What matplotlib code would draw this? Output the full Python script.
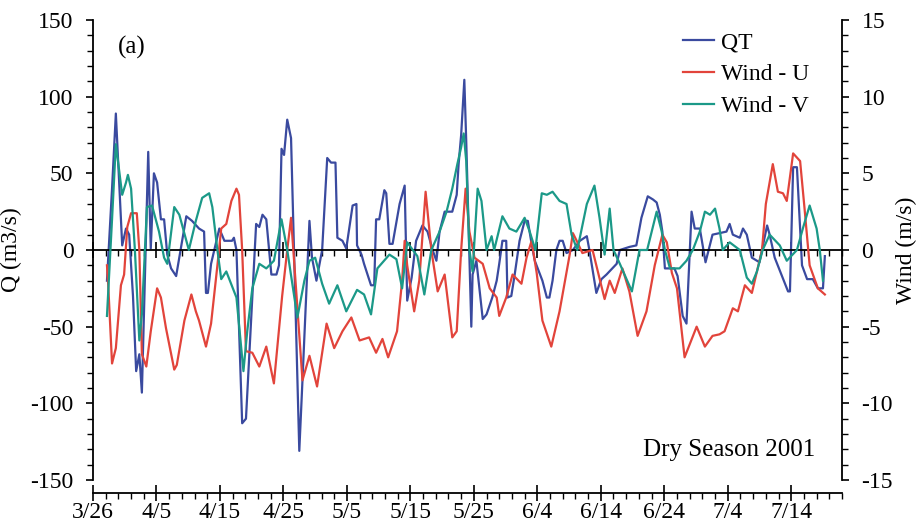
import numpy as np
import matplotlib
matplotlib.use("Agg")
import matplotlib.pyplot as plt
from matplotlib.ticker import MultipleLocator

plt.rcParams["font.family"] = ["Liberation Serif", "DejaVu Serif"]
plt.rcParams["axes.unicode_minus"] = False

# days since 3/26/2001
date_labels = ["3/26", "4/5", "4/15", "4/25", "5/5", "5/15", "5/25",
               "6/4", "6/14", "6/24", "7/4", "7/14"]

qt_day = [2.2, 3.0, 3.6, 4.6, 5.2, 5.7, 6.3, 6.8, 7.3, 7.7, 8.7, 9.1, 9.6, 10.1,
          10.7, 11.2, 11.7, 12.3, 13.1, 14.7, 15.6, 16.7, 17.5, 17.8, 18.1, 18.6,
          19.9, 20.7, 21.9, 22.2, 22.6, 23.5, 24.1, 25.7, 26.2, 26.7, 27.3, 28.1,
          28.9, 29.3, 29.7, 30.1, 30.6, 31.2, 32.5, 33.0, 34.1, 34.5, 35.2, 36.1,
          36.9, 37.5, 38.2, 38.5, 39.3, 39.9, 40.9, 41.5, 41.6, 42.3, 42.7, 43.8,
          44.3, 44.6, 45.1, 45.9, 46.2, 46.7, 47.2, 48.3, 49.1, 49.5, 50.2, 50.9,
          51.9, 52.7, 53.5, 54.1, 54.6, 55.4, 56.6, 57.3, 57.6, 58.0, 58.5, 58.8,
          59.6, 59.8, 60.4, 61.4, 62.0, 62.9, 63.6, 64.0, 64.5, 65.1, 65.3, 65.9,
          66.4, 67.2, 68.0, 68.5, 69.1, 69.6, 70.8, 71.5, 71.9, 72.4, 73.0, 73.5,
          74.0, 74.6, 75.6, 76.7, 77.8, 78.2, 79.3, 80.1, 80.9, 82.5, 83.0, 84.5,
          85.6, 86.4, 87.4, 88.2, 88.8, 89.3, 89.7, 90.1, 90.9, 91.6, 92.1, 92.9,
          93.5, 94.3, 94.8, 95.6, 96.5, 97.6, 98.7, 99.8, 100.3, 100.8, 101.9,
          102.4, 103.0, 103.8, 105.0, 106.2, 106.6, 107.4, 109.5, 109.8, 110.3,
          110.9, 111.7, 112.5, 113.4, 114.2, 115.0, 115.3]
qt_val = [-20, 40, 89, 3, 14, 10, -30, -79, -68, -93, 64, 1, 50, 44,
          20, 20, -3, -12, -17, 22, 19, 14, 12, -28, -28, -9,
          14, 6, 6, 8, 0, -113, -110, 17, 15, 23, 20, -16,
          -16, -10, 66, 62, 85, 73, -131, -85, 19, -5, -20, 0,
          60, 57, 57, 8, 6, 1, 29, 30, 3, -3, -9, -23,
          -23, 20, 20, 39, 37, 4, 4, 30, 42, -33, -18, 6,
          16, 12, 0, -7, 12, 25, 25, 36, 56, 75, 111, 71,
          -50, -16, -7, -45, -42, -31, -20, -9, 6, 6, -31, -30,
          -17, 6, 19, 19, 4, -7, -20, -31, -31, -20, 0, 6,
          6, -2, 0, 6, 9, 0, -28, -19, -16, -9, 0, 2,
          3, 21, 35, 33, 31, 23, 12, -12, -12, -12, -17, -43,
          -48, 25, 14, 14, -8, 10, 11, 12, 17, 10, 8,
          14, 10, -5, -8, 16, 10, -5, -27, -27, 54,
          54, -10, -19, -19, -25, -25, -4]

wu_day = [2.2, 2.4, 3.0, 3.6, 4.4, 4.9, 5.4, 6.0, 6.9, 7.3, 7.7, 8.4, 9.1, 10.1,
          10.7, 11.5, 12.8, 13.2, 14.4, 15.5, 16.2, 16.7, 17.8, 18.6, 19.6, 20.2,
          21.0, 21.8, 22.6, 23.0, 23.5, 24.1, 25.1, 26.2, 27.3, 28.5, 29.8, 30.6,
          31.2, 31.9, 33.0, 34.1, 35.3, 36.8, 38.0, 39.3, 40.7, 42.0, 43.5, 44.6,
          45.6, 46.5, 47.9, 48.7, 49.1, 49.5, 50.6, 51.4, 52.4, 53.3, 54.3, 55.4,
          56.6, 57.3, 58.0, 58.7, 59.3, 60.1, 61.4, 62.5, 63.6, 64.0, 65.1, 66.1,
          67.5, 68.3, 69.1, 69.9, 70.8, 72.2, 73.5, 75.1, 75.6, 76.2, 77.1, 78.7,
          80.6, 81.4, 82.2, 83.4, 84.5, 85.8, 87.2, 88.5, 89.7, 90.4, 91.2, 92.0,
          93.2, 95.1, 96.4, 97.6, 98.7, 99.5, 100.8, 101.6, 102.7, 103.8, 105.4,
          106.0, 107.1, 107.9, 108.7, 109.3, 110.3, 111.4, 112.1, 112.9, 114.2,
          115.3]
wu_val = [-1.0, -2.3, -7.4, -6.4, -2.3, -1.6, 1.5, 2.4, 2.4, 0, -6.8, -7.6, -5.3, -2.5,
          -3.1, -5.1, -7.8, -7.5, -4.6, -2.9, -4.0, -4.6, -6.3, -4.8, -1.0, 1.4,
          1.7, 3.2, 4.0, 3.6, 0, -6.6, -6.7, -7.6, -6.3, -8.7, -3.0, 0,
          2.1, -2.0, -8.5, -6.9, -8.9, -4.8, -6.4, -5.3, -4.4, -5.9, -5.7, -6.7,
          -5.8, -7.0, -5.3, -2.0, 0.6, -1.0, -4.0, -2.0, 3.8, 0, -2.7, -1.6,
          -5.7, -5.3, 0, 4.0, 1.2, -0.5, -0.9, -2.5, -3.1, -4.3, -3.1, -1.6,
          -2.2, -0.5, 0.6, -1.5, -4.6, -6.3, -4.0, -0.3, 1.1, 0.6, -0.2, 0,
          -3.2, -2.0, -2.8, -1.2, -2.7, -5.6, -4.0, -1.0, 1.0, 0.5, -1.5, -2.5,
          -7.0, -5.0, -6.3, -5.6, -5.5, -5.3, -3.8, -4.0, -2.3, -2.8, 0,
          3.0, 5.6, 3.8, 3.7, 3.2, 6.3, 5.8, 2.7, -1.0, -2.5,
          -2.9]

wv_day = [2.2, 3.0, 3.6, 4.6, 5.2, 5.5, 6.0, 6.6, 7.3, 7.7, 8.5, 9.3, 10.4, 11.2,
          11.7, 12.8, 13.6, 15.1, 16.2, 17.2, 18.3, 18.8, 19.6, 20.2, 21.0, 22.6,
          23.7, 24.3, 25.1, 26.2, 27.3, 28.5, 29.7, 30.6, 32.2, 33.3, 34.1, 35.0,
          36.1, 37.2, 38.5, 39.9, 41.6, 42.7, 43.8, 44.8, 46.7, 47.8, 48.7, 49.5,
          51.1, 52.2, 53.3, 54.6, 55.7, 56.6, 57.4, 58.0, 58.4, 58.8, 59.3, 59.8,
          60.6, 61.2, 62.0, 62.8, 63.2, 64.5, 65.6, 66.7, 68.0, 68.8, 69.7, 70.7,
          71.5, 72.4, 73.5, 74.6, 75.4, 76.3, 77.8, 79.0, 79.8, 80.6, 81.4, 82.0,
          83.0, 84.9, 86.1, 87.3, 88.8, 89.6, 90.1, 90.9, 92.4, 93.5, 94.5, 95.6,
          96.4, 97.2, 98.0, 98.7, 99.2, 100.3, 101.9, 103.0, 103.8, 104.6, 105.5,
          106.6, 108.2, 109.3, 110.9, 111.9, 112.9, 114.0, 114.5, 115.0]
wv_val = [-4.3, 2.0, 6.9, 3.6, 4.4, 4.9, 4.0, 0, -5.9, -4.2, 2.8, 2.9, 1.2, -0.5,
          -0.9, 2.8, 2.3, 0, 1.9, 3.4, 3.7, 2.8, 0, -1.9, -1.4, -3.1,
          -7.9, -5.3, -2.5, -0.9, -1.2, -0.7, 2.0, 0, -4.4, -2.0, -0.7, -0.5,
          -2.2, -3.5, -2.3, -4.0, -2.6, -2.9, -4.2, -1.2, -0.3, -0.6, -2.5, 0.5,
          -0.4, -2.9, 0, 1.2, 2.5, 4.0, 5.6, 6.7, 7.6, 5.8, 0, -1.4,
          4.0, 3.2, 0, 0.9, 0, 2.2, 1.4, 1.2, 2.1, 1.2, 0, 3.7,
          3.6, 3.8, 3.2, 3.0, 1.0, 0, 3.0, 4.2, 2.1, -0.3, 2.7, 0,
          -0.9, -2.7, 0, 0, 2.5, 1.2, 0, -1.2, -1.2, -0.7, 0, 1.2,
          2.5, 2.3, 2.7, 1.4, 0, 0.5, 0, -1.8, -2.2, -1.4, 0,
          1.0, 0.3, -0.7, 0, 1.5, 2.9, 1.4, 0, -2.0]

c_qt = "#3a4a9f"
c_u = "#e2443b"
c_v = "#1b9988"

fig = plt.figure(figsize=(9.2, 5.29), dpi=100)
ax = fig.add_axes([93 / 920, 1 - 480 / 529, 749 / 920, 460 / 529])
axr = ax.twinx()
axb = ax.twiny()

xmax = 118
ax.set_xlim(0, xmax)
axb.set_xlim(0, xmax)
ax.set_ylim(-150, 150)
axr.set_ylim(-15, 15)

# zero line carries the date ticks (no labels)
ax.spines["bottom"].set_position(("data", 0))
ax.spines["top"].set_visible(False)
ax.spines["right"].set_visible(False)
ax.xaxis.set_major_locator(MultipleLocator(10))
ax.xaxis.set_minor_locator(MultipleLocator(2))
ax.tick_params(axis="x", which="major", direction="inout", length=12, width=1.2,
               labelbottom=False)
ax.tick_params(axis="x", which="minor", direction="out", length=4, width=1.0)
ax.yaxis.set_major_locator(MultipleLocator(50))
ax.yaxis.set_minor_locator(MultipleLocator(10))
ax.tick_params(axis="y", which="major", direction="out", length=5, width=1.2,
               labelsize=17, pad=9)
ax.tick_params(axis="y", which="minor", direction="out", length=4.5, width=1.0)

# labelled date axis below the plot
for s in ["top", "left", "right"]:
    axb.spines[s].set_visible(False)
axb.xaxis.set_ticks_position("bottom")
axb.xaxis.set_label_position("bottom")
axb.spines["bottom"].set_position(("outward", 9))
axb.set_xticks(np.arange(0, 111, 10))
axb.set_xticklabels(date_labels)
axb.xaxis.set_minor_locator(MultipleLocator(2))
axb.tick_params(axis="x", which="major", direction="inout", length=12, width=1.2,
                labelsize=17, pad=1)
axb.tick_params(axis="x", which="minor", direction="out", length=4, width=1.0)

for s in ["top", "left", "bottom"]:
    axr.spines[s].set_visible(False)
axr.yaxis.set_major_locator(MultipleLocator(5))
axr.yaxis.set_minor_locator(MultipleLocator(1))
axr.tick_params(axis="y", which="major", direction="out", length=5, width=1.2,
                labelsize=17, pad=9)
axr.tick_params(axis="y", which="minor", direction="out", length=4.5, width=1.0)

for a in (ax, axr, axb):
    for s in a.spines.values():
        s.set_linewidth(1.3)

l1, = ax.plot(qt_day, qt_val, color=c_qt, lw=1.6, label="QT")
l2, = axr.plot(wu_day, wu_val, color=c_u, lw=1.6, label="Wind - U")
l3, = axr.plot(wv_day, wv_val, color=c_v, lw=1.6, label="Wind - V")

ax.set_ylabel("Q (m3/s)", fontsize=17)
ax.yaxis.set_label_coords(-0.095, 0.5)
axr.set_ylabel("Wind (m/s)", fontsize=17, rotation=90)
axr.yaxis.set_label_coords(1.072, 0.5)

axr.legend(handles=[l1, l2, l3], loc="upper left", bbox_to_anchor=(0.788, 0.975),
           frameon=False, fontsize=17, handlelength=1.3, handletextpad=0.3,
           labelspacing=0.45, borderpad=0, borderaxespad=0)

ax.text(0.033, 0.941, "(a)", transform=ax.transAxes, fontsize=18,
        ha="left", va="center")
ax.text(0.964, 0.065, "Dry Season 2001", transform=ax.transAxes, fontsize=18,
        ha="right", va="center")

fig.savefig("out.png", dpi=100)
